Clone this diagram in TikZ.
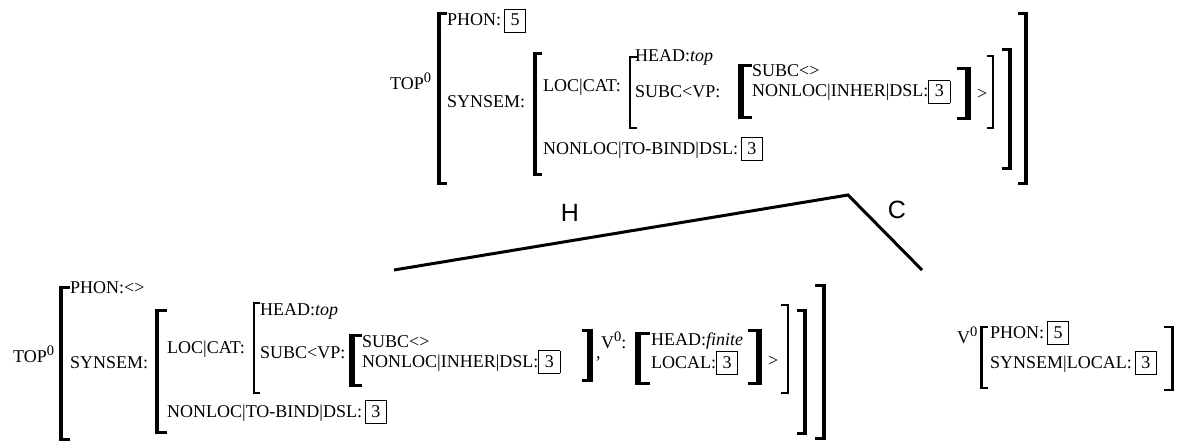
\documentclass[tikz,border=0pt]{standalone}
\usepackage{fontspec}
\setmainfont{Liberation Serif}
\newfontfamily\lblfont{Liberation Sans}
\newcommand\tg[1]{{\setlength\fboxsep{0pt}\setlength\fboxrule{0.7pt}\fbox{\makebox[20.5pt]{\rule[-6pt]{0pt}{22pt}#1}}}}
\newcommand\supz{\raisebox{7pt}{\fontsize{14.5}{14.5}\selectfont 0}}
% x, ytop, ybot, serif end x, vertical width, serif width
\newcommand\brk[6]{%
  \draw[line width=#5pt] (#1,{#2-#6/2}) -- (#1,{#3+#6/2});
  \draw[line width=#6pt] (#1,#2) -- (#4,#2) (#1,#3) -- (#4,#3);}
\begin{document}
\begin{tikzpicture}[x=1pt,y=-1pt,
  t/.style={anchor=base west,inner sep=0pt,font=\fontsize{18}{20}\selectfont},
  lbl/.style={inner sep=0pt,font=\lblfont\fontsize{25}{25}\selectfont},
  edge/.style={line width=3pt,line join=miter}]
\useasboundingbox (0,0) rectangle (1180,441);
% ---------- top AVM ----------
\node[t] (tTop) at (390,90) {TOP\supz};
\node[t] (tPhon) at (447,26) {PHON:\hspace{3pt}\tg{5}};
\node[t] (tSyn) at (447,108) {SYNSEM:};
\node[t] (tLoc) at (543,92) {LOC|CAT:};
\node[t] (tHead) at (635,62) {HEAD:\textit{top}};
\node[t] (tSubcVP) at (635,98) {SUBC<VP:};
\node[t] (tSubc) at (752,77) {SUBC<>};
\node[t] (tInher) at (752,97) {NONLOC|INHER|DSL:\tg{3}};
\node[t] (tGt) at (977,100) {>};
\node[t] (tBind) at (543,154) {NONLOC|TO-BIND|DSL:\hspace{3pt}\tg{3}};
\brk{439}{14}{183}{447}{4}{3}
\brk{534.5}{54}{174}{542}{4}{3}
\brk{630}{57}{128}{637}{2.5}{2}
\brk{741}{66}{118}{752}{6}{3}
\brk{968}{69}{119}{957}{6}{3}
\brk{993}{56}{128}{987}{2.5}{2}
\brk{1010}{50}{168}{1002}{4}{3}
\brk{1026}{14}{183}{1018}{4.5}{3}
% ---------- tree ----------
\coordinate (apex) at (848,195);
\coordinate (hend) at (394,270);
\coordinate (cend) at (922,270);
\draw[edge] (hend) -- (apex) -- (cend);
\node[lbl] (H) at (570,213) {H};
\node[lbl] (C) at (897,210) {C};
% ---------- bottom AVM ----------
\node[t] (bTop) at (13,362) {TOP\supz};
\node[t] (bPhon) at (70,293) {PHON:<>};
\node[t] (bSyn) at (70,368) {SYNSEM:};
\node[t] (bLoc) at (167,353) {LOC|CAT:};
\node[t] (bHead) at (260,315) {HEAD:\textit{top}};
\node[t] (bSubcVP) at (260,358) {SUBC<VP:};
\node[t] (bSubc) at (362,347) {SUBC<>};
\node[t] (bInher) at (362,367) {NONLOC|INHER|DSL:\tg{3}};
\node[t] (bComma) at (596,358) {,};
\node[t] (bV) at (601,348) {V\supz:};
\node[t] (bHeadF) at (651,345) {HEAD:\textit{finite}};
\node[t] (bLocal) at (651,368) {LOCAL:\tg{3}};
\node[t] (bGt) at (768,366) {>};
\node[t] (bBind) at (167,417) {NONLOC|TO-BIND|DSL:\hspace{3pt}\tg{3}};
\brk{61}{287}{439}{70}{4}{3}
\brk{156.5}{310}{432}{167}{4}{3}
\brk{254}{303}{393}{260}{2.5}{2}
\brk{352}{335}{385}{362}{6}{3}
\brk{590}{330}{380}{582}{6}{3}
\brk{638}{333}{383}{650}{6}{3}
\brk{759}{330}{383}{748}{6}{3}
\brk{788}{305}{393}{781}{2.5}{2}
\brk{805}{310}{433}{797}{4}{3}
\brk{824}{285}{438}{815}{4.5}{3}
% ---------- V0 AVM ----------
\node[t] (vV) at (957,343) {V\supz};
\node[t] (vPhon) at (990,338) {PHON:\hspace{3pt}\tg{5}};
\node[t] (vSyn) at (990,368) {SYNSEM|LOCAL:\hspace{3pt}\tg{3}};
\brk{981}{327}{388}{988}{3}{2}
\brk{1172}{327}{390}{1164}{3}{2}
\end{tikzpicture}
\end{document}
